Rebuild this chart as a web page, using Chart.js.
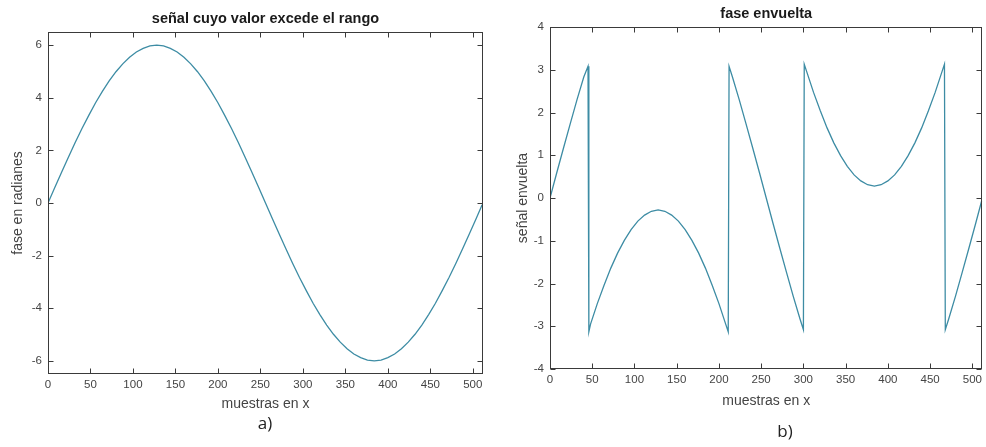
<!DOCTYPE html>
<html>
<head>
<meta charset="utf-8">
<script src="https://cdn.jsdelivr.net/npm/chart.js@4"></script>
<style>
  html, body { margin: 0; padding: 0; background: #fff; }
  #wrap { position: relative; width: 986px; height: 447px; }
  canvas { position: absolute; top: 0; }
</style>
</head>
<body>
<div id="wrap">
  <canvas id="c1" width="493" height="447" style="left:0px;width:493px;height:447px"></canvas>
  <canvas id="c2" width="493" height="447" style="left:493px;width:493px;height:447px"></canvas>
</div>
<script>
// ---- data ----
const xTicks = [0, 50, 100, 150, 200, 250, 300, 350, 400, 450, 500];
const leftYTicks = [-6, -4, -2, 0, 2, 4, 6];
const rightYTicks = [-4, -3, -2, -1, 0, 1, 2, 3, 4];

const signalX = [0, 8, 16, 24, 32, 40, 48, 56, 64, 72, 80, 88, 96, 104, 112, 120, 128,
                 136, 144, 152, 160, 168, 176, 184, 192, 200, 208, 216, 224, 232, 240, 248, 256,
                 264, 272, 280, 288, 296, 304, 312, 320, 328, 336, 344, 352, 360, 368, 376, 384,
                 392, 400, 408, 416, 424, 432, 440, 448, 456, 464, 472, 480, 488, 496, 504, 511];
const signalY = [0, 0.59, 1.17, 1.74, 2.30, 2.83, 3.33, 3.81, 4.24, 4.64, 4.99, 5.29, 5.54, 5.74, 5.88, 5.97, 6.00,
                 5.97, 5.88, 5.74, 5.54, 5.29, 4.99, 4.64, 4.24, 3.81, 3.33, 2.83, 2.30, 1.74, 1.17, 0.59, 0,
                 -0.59, -1.17, -1.74, -2.30, -2.83, -3.33, -3.81, -4.24, -4.64, -4.99, -5.29, -5.54, -5.74, -5.88, -5.97, -6.00,
                 -5.97, -5.88, -5.74, -5.54, -5.29, -4.99, -4.64, -4.24, -3.81, -3.33, -2.83, -2.30, -1.74, -1.17, -0.59, -0.07];

const wrappedX = [0, 8, 16, 24, 32, 40, 45,
                  46, 48, 56, 64, 72, 80, 88, 96, 104, 112, 120, 128, 136, 144, 152, 160, 168, 176, 184, 192, 200, 208, 211,
                  212, 216, 224, 232, 240, 248, 256, 264, 272, 280, 288, 296, 300,
                  301, 304, 312, 320, 328, 336, 344, 352, 360, 368, 376, 384, 392, 400, 408, 416, 424, 432, 440, 448, 456, 464, 467,
                  468, 472, 480, 488, 496, 504, 511];
const wrappedY = [0, 0.59, 1.17, 1.74, 2.30, 2.83, 3.08,
                  -3.13, -2.95, -2.47, -2.04, -1.64, -1.29, -0.99, -0.74, -0.54, -0.40, -0.31, -0.28, -0.31, -0.40, -0.54, -0.74, -0.99, -1.29, -1.64, -2.04, -2.47, -2.95, -3.13,
                  3.08, 2.83, 2.30, 1.74, 1.17, 0.59, 0, -0.59, -1.17, -1.74, -2.30, -2.83, -3.08,
                  3.13, 2.95, 2.47, 2.04, 1.64, 1.29, 0.99, 0.74, 0.54, 0.40, 0.31, 0.28, 0.31, 0.40, 0.54, 0.74, 0.99, 1.29, 1.64, 2.04, 2.47, 2.95, 3.13,
                  -3.08, -2.83, -2.30, -1.74, -1.17, -0.59, -0.07];

const titles = ['señal cuyo valor excede el rango', 'fase envuelta'];
const yLabels = ['fase en radianes', 'señal envuelta'];
const xLabel = 'muestras en x';
const panelTags = ['a)', 'b)'];

// ---- styling ----
const FONT = '"Liberation Sans", Arial, sans-serif';
const LINE = '#3d8ca4';
const AXIS = '#3a3a3a';
const TEXT = '#444444';

function boxPlugin(title, titleY, tag, tagX, tagY) {
  return {
    id: 'matlabBox',
    afterDatasetsDraw(chart) {
      const { ctx, chartArea: a, scales } = chart;
      ctx.save();
      ctx.strokeStyle = AXIS;
      ctx.lineWidth = 1;
      const L = Math.round(a.left) + 0.5, R = Math.round(a.right) - 0.5;
      const T = Math.round(a.top) + 0.5, B = Math.round(a.bottom) - 0.5;
      ctx.strokeRect(L, T, R - L, B - T);
      const tl = 5;
      ctx.beginPath();
      scales.x.ticks.forEach(t => {
        const px = Math.round(scales.x.getPixelForValue(t.value)) + 0.5;
        ctx.moveTo(px, B); ctx.lineTo(px, B - tl);
        ctx.moveTo(px, T); ctx.lineTo(px, T + tl);
      });
      scales.y.ticks.forEach(t => {
        const py = Math.round(scales.y.getPixelForValue(t.value)) + 0.5;
        ctx.moveTo(L, py); ctx.lineTo(L + tl, py);
        ctx.moveTo(R, py); ctx.lineTo(R - tl, py);
      });
      ctx.stroke();
      ctx.restore();
    },
    afterDraw(chart) {
      const { ctx, chartArea: a } = chart;
      ctx.save();
      ctx.fillStyle = '#1a1a1a';
      ctx.font = 'bold 14.5px ' + FONT;
      ctx.textAlign = 'center';
      ctx.textBaseline = 'middle';
      ctx.fillText(title, (a.left + a.right) / 2, titleY);
      ctx.fillStyle = '#222';
      ctx.font = '17px "Open Sans", "Noto Sans", sans-serif';
      ctx.fillText(tag, tagX, tagY);
      ctx.restore();
    }
  };
}

function makeChart(id, xs, ys, yTicks, yMin, yMax, cfg) {
  const pts = xs.map((x, i) => ({ x: x, y: ys[i] }));
  return new Chart(document.getElementById(id), {
    type: 'line',
    data: { datasets: [{ data: pts, borderColor: LINE, borderWidth: 1.3, pointRadius: 0, tension: 0, fill: false }] },
    options: {
      responsive: false,
      animation: false,
      layout: { padding: { left: 0, right: cfg.padRight, top: cfg.top, bottom: 0 } },
      plugins: { legend: { display: false }, tooltip: { enabled: false } },
      scales: {
        x: {
          type: 'linear', min: 0, max: 512,
          afterBuildTicks: s => { s.ticks = xTicks.map(v => ({ value: v })); },
          afterFit: s => { s.height = cfg.xHeight; },
          grid: { display: false, drawTicks: false },
          border: { display: false },
          ticks: { color: TEXT, font: { family: FONT, size: 11.5 }, padding: 4, maxRotation: 0, autoSkip: false },
          title: { display: true, text: xLabel, color: TEXT, font: { family: FONT, size: 14 }, padding: { top: 0, bottom: cfg.xTitlePad } }
        },
        y: {
          type: 'linear', min: yMin, max: yMax,
          afterBuildTicks: s => { s.ticks = yTicks.map(v => ({ value: v })); },
          afterFit: s => { s.width = cfg.yWidth; },
          grid: { display: false, drawTicks: false },
          border: { display: false },
          ticks: { color: TEXT, font: { family: FONT, size: 11.5 }, padding: 6, autoSkip: false },
          title: { display: true, text: cfg.yLabel, color: TEXT, font: { family: FONT, size: 14 }, padding: { top: cfg.yTitlePad, bottom: 0 } }
        }
      }
    },
    plugins: [boxPlugin(cfg.title, cfg.titleY, cfg.tag, cfg.tagX, cfg.tagY)]
  });
}

makeChart('c1', signalX, signalY, leftYTicks, -6.5, 6.5, {
  padRight: 10, top: 32, xHeight: 73, yWidth: 48, xTitlePad: 34, yTitlePad: 10,
  yLabel: yLabels[0], title: titles[0], titleY: 19, tag: panelTags[0], tagX: 265, tagY: 424
});
makeChart('c2', wrappedX, wrappedY, rightYTicks, -4, 4, {
  padRight: 3, top: 27, xHeight: 78, yWidth: 57, xTitlePad: 37, yTitlePad: 22,
  yLabel: yLabels[1], title: titles[1], titleY: 14, tag: panelTags[1], tagX: 292, tagY: 432
});
</script>
</body>
</html>
